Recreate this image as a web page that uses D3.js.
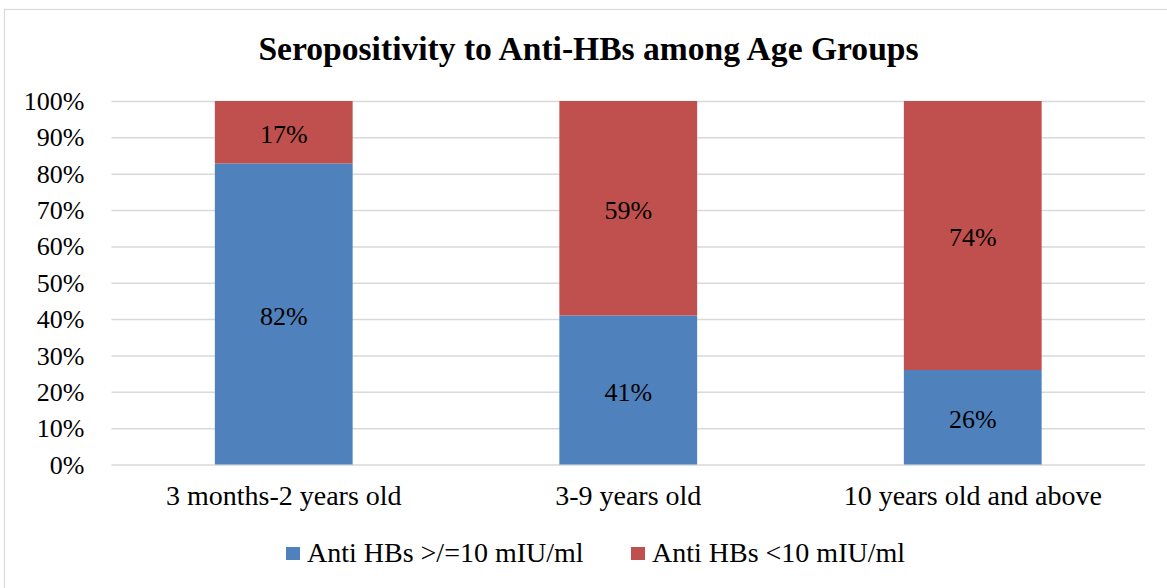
<!DOCTYPE html>
<html>
<head>
<meta charset="utf-8">
<script src="https://cdn.jsdelivr.net/npm/d3@7/dist/d3.min.js"></script>
<style>
  html, body { margin: 0; padding: 0; background: #fff; }
  svg { display: block; font-family: "Liberation Serif", "Times New Roman", serif; }
  svg text { font-family: "Liberation Serif", "Times New Roman", serif; }
</style>
</head>
<body>
<svg id="chart" width="1167" height="588"></svg>
<script>
// Age groups and the two antibody-level series (percent of each group)
const categories = ["3 months-2 years old", "3-9 years old", "10 years old and above"];
const protectedPct = [82, 41, 26];    // Anti HBs >/=10 mIU/ml
const unprotectedPct = [17, 59, 74];  // Anti HBs <10 mIU/ml
const seriesNames = ["Anti HBs >/=10 mIU/ml", "Anti HBs <10 mIU/ml"];
const yTicks = [0, 10, 20, 30, 40, 50, 60, 70, 80, 90, 100];
const titleText = "Seropositivity to Anti-HBs among Age Groups";

const colors = ["#4F81BD", "#C0504D"];
const gridColor = "#D9D9D9";

const svg = d3.select("#chart");
const W = 1167, H = 588;

svg.append("rect").attr("width", W).attr("height", H).attr("fill", "#fff");
// chart frame
svg.append("rect")
  .attr("x", 4.5).attr("y", 9.5)
  .attr("width", W + 10).attr("height", H + 10)
  .attr("fill", "none").attr("stroke", gridColor).attr("stroke-width", 1.2);

const plot = { left: 111.5, right: 1145, top: 101, bottom: 464.5 };

const x = d3.scaleBand()
  .domain(categories)
  .range([plot.left, plot.right])
  .paddingInner(0.6)
  .paddingOuter(0.3);

const y = d3.scaleLinear().domain([0, 100]).range([plot.bottom, plot.top]);

// Rows normalised to 100% per group (100% stacked bars)
const rows = categories.map((c, i) => {
  const total = protectedPct[i] + unprotectedPct[i];
  return {
    cat: c,
    s0: protectedPct[i] / total * 100,
    s1: unprotectedPct[i] / total * 100,
    lab0: protectedPct[i],
    lab1: unprotectedPct[i]
  };
});
const stack = d3.stack().keys(["s0", "s1"]);
const stacked = stack(rows);

// gridlines and percent ticks
const yAxis = d3.axisLeft(y).tickValues(yTicks).tickSize(-(plot.right - plot.left)).tickFormat(d => d + "%");
const gAxis = svg.append("g")
  .attr("transform", `translate(${plot.left},0)`)
  .call(yAxis)
  .attr("font-family", "Liberation Serif");
gAxis.select(".domain").remove();
gAxis.selectAll(".tick line").attr("stroke", gridColor).attr("stroke-width", 1.5);
gAxis.selectAll(".tick text")
  .attr("x", -27)
  .attr("dy", "0.33em")
  .attr("fill", "#000")
  .style("font-size", "26px");

// bars
const layers = svg.append("g").selectAll("g")
  .data(stacked).join("g")
  .attr("fill", (d, i) => colors[i]);

layers.selectAll("rect")
  .data(d => d.map(p => ({ p, cat: p.data.cat })))
  .join("rect")
  .attr("x", d => x(d.cat))
  .attr("width", x.bandwidth())
  .attr("y", d => y(d.p[1]))
  .attr("height", d => y(d.p[0]) - y(d.p[1]));

// data labels
stacked.forEach((layer, li) => {
  svg.append("g").selectAll("text")
    .data(layer)
    .join("text")
    .attr("x", d => x(d.data.cat) + x.bandwidth() / 2)
    .attr("y", d => (y(d[0]) + y(d[1])) / 2)
    .attr("dy", "0.42em")
    .attr("text-anchor", "middle")
    .attr("font-size", 26)
    .attr("fill", "#000")
    .text(d => (li === 0 ? d.data.lab0 : d.data.lab1) + "%");
});

// category axis
const xAxis = d3.axisBottom(x).tickSize(0);
const gx = svg.append("g")
  .attr("transform", `translate(0,${plot.bottom})`)
  .call(xAxis)
  .attr("font-family", "Liberation Serif");
gx.select(".domain").remove();
gx.selectAll(".tick text")
  .attr("y", 40)
  .attr("dy", 0)
  .attr("fill", "#000")
  .style("font-size", "28px");

// title
svg.append("text")
  .attr("x", 588.5).attr("y", 60)
  .attr("text-anchor", "middle")
  .attr("font-weight", "bold")
  .attr("font-size", 33.6)
  .attr("fill", "#000")
  .text(titleText);

// legend
const legendX = [286, 631];
const leg = svg.append("g");
seriesNames.forEach((name, i) => {
  leg.append("rect")
    .attr("x", legendX[i]).attr("y", 547)
    .attr("width", 14).attr("height", 13)
    .attr("fill", colors[i]);
  leg.append("text")
    .attr("x", legendX[i] + 21).attr("y", 562)
    .attr("font-size", 28)
    .attr("fill", "#000")
    .text(name);
});
</script>
</body>
</html>
